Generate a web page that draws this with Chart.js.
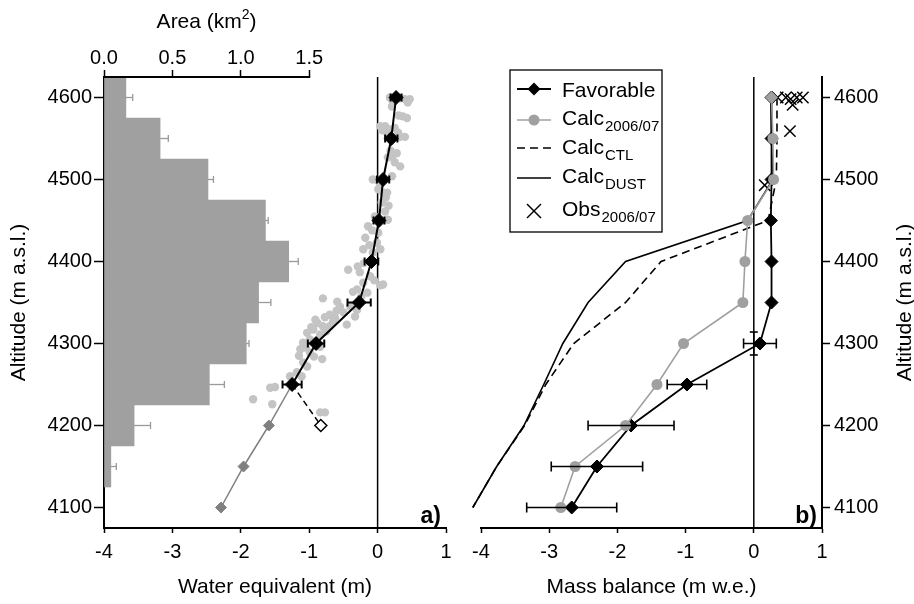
<!DOCTYPE html>
<html>
<head>
<meta charset="utf-8">
<script src="https://cdn.jsdelivr.net/npm/chart.js@4"></script>
<style>
  body { margin: 0; background: #fff; }
  #wrap { position: relative; width: 914px; height: 604px; }
  canvas { position: absolute; top: 0; }
</style>
</head>
<body>
<div id="wrap">
  <canvas id="chartA" width="460" height="604" style="left:0"></canvas>
  <canvas id="chartB" width="454" height="604" style="left:460px"></canvas>
</div>
<script>
// ---- tick labels ----
const altTicks = [4100, 4200, 4300, 4400, 4500, 4600];
const areaTicks = [0.0, 0.5, 1.0, 1.5];
const meterTicks = [-4, -3, -2, -1, 0, 1];

// ---- panel a: glacier area per 50 m band ----
const bandAlt = [4600, 4550, 4500, 4450, 4400, 4350, 4300, 4250, 4200, 4150];
const bandArea = [0.16, 0.41, 0.76, 1.18, 1.35, 1.13, 1.04, 0.77, 0.22, 0.05];
const bandAreaErr = [0.05, 0.06, 0.04, 0.02, 0.07, 0.09, 0.02, 0.11, 0.12, 0.04];

// ---- panel a: water equivalent ----
const weAlt = [4600, 4550, 4500, 4450, 4400, 4350, 4300, 4250];
const weFav = [0.27, 0.20, 0.08, 0.02, -0.09, -0.27, -0.90, -1.25];
const weErr = [0.08, 0.09, 0.09, 0.08, 0.10, 0.17, 0.12, 0.14];
const weExtAlt = [4250, 4200, 4150, 4100];
const weExt = [-1.25, -1.59, -1.96, -2.29];
const weOpenAlt = [4250, 4200];
const weOpen = [-1.25, -0.83];
// single probe readings [water equivalent, altitude]
const probes = [
  [0.18,4600],[0.25,4600],[0.33,4599],[0.40,4598],[0.47,4598],[0.22,4596],[0.44,4594],
  [0.21,4589],[0.37,4577],[0.31,4578],[0.43,4575],
  [0.04,4565],[0.11,4565],[0.18,4561],[0.25,4563],[0.30,4557],[0.33,4552],[0.40,4552],[0.07,4560],[0.14,4557],
  [0.15,4527],[0.21,4528],[0.25,4521],[0.33,4516],[0.19,4535],[0.28,4532],
  [-0.07,4500],[0.21,4504],[0.01,4488],[0.08,4484],[0.14,4484],[0.06,4472],[0.11,4461],[-0.04,4455],[0.15,4451],
  [0.02,4497],[0.12,4478],[0.16,4468],
  [-0.14,4443],[0.01,4435],[-0.18,4429],[-0.01,4423],[-0.21,4415],[0.04,4415],[-0.07,4411],[-0.08,4438],[-0.12,4420],
  [-0.29,4394],[-0.43,4390],[-0.26,4387],[-0.11,4382],[-0.21,4374],[0.04,4371],[0.08,4372],[-0.30,4366],[-0.36,4363],[-0.15,4362],
  [-0.20,4398],[-0.05,4377],[-0.24,4357],
  [-0.80,4355],[-0.59,4351],[-0.40,4345],[-0.30,4341],[-0.50,4338],[-0.33,4333],[-0.77,4332],[-0.91,4329],[-0.65,4327],
  [-0.45,4323],[-0.80,4321],[-0.70,4321],[-0.94,4317],[-1.03,4313],[-0.84,4311],[-0.99,4305],[-1.09,4301],[-0.91,4299],
  [-0.60,4340],[-0.70,4335],[-0.55,4345],[-0.88,4325],[-0.75,4315],[-0.97,4320],[-0.62,4331],
  [-0.84,4296],[-1.13,4293],[-0.99,4289],[-0.81,4281],[-1.09,4277],[-1.03,4272],[-1.18,4265],[-1.11,4260],[-1.28,4260],
  [-1.05,4295],[-0.93,4284],[-1.15,4285],
  [-1.57,4246],[-1.50,4247],[-1.82,4232],[-1.54,4226],[-0.84,4216],[-0.77,4216]
];

// ---- panel b: mass balance ----
const mbAlt = [4600, 4550, 4500, 4450, 4400, 4350, 4300, 4250, 4200, 4150, 4100];
const mbFav = [0.26, 0.26, 0.26, 0.25, 0.26, 0.26, 0.09, -0.98, -1.80, -2.30, -2.67];
const mbFavErr = [0, 0, 0, 0, 0, 0, 0.24, 0.29, 0.63, 0.67, 0.66];
const mbCalc = [0.26, 0.28, 0.29, -0.09, -0.13, -0.16, -1.03, -1.42, -1.88, -2.62, -2.83];
const mbCtl = [0.34, 0.34, 0.33, 0.21, -1.36, -1.88, -2.64, -3.05, -3.36, -3.77, -4.12];
const mbDust = [0.25, 0.26, 0.28, -0.09, -1.88, -2.43, -2.80, -3.08, -3.37, -3.77, -4.12];
const obsMB = [0.35, 0.47, 0.54, 0.63, 0.72, 0.57, 0.53, 0.16];
const obsAlt = [4600, 4600, 4598, 4600, 4600, 4591, 4559, 4493];
const obsStakeMB = 0, obsStakeAlt = 4300, obsStakeAltErr = 14;

const FONT = "'Liberation Sans', Arial, Helvetica, sans-serif";
Chart.defaults.font.family = FONT;
Chart.defaults.font.size = 20;
Chart.defaults.color = '#000';
Chart.defaults.animation = false;

const pts = (xs, ys) => xs.map((x, i) => ({ x: x, y: ys[i] }));

function altScale(position, width, title) {
  return {
    type: 'linear', position: position, min: 4075, max: 4625, offset: false,
    afterBuildTicks: s => { s.ticks = altTicks.map(v => ({ value: v })); },
    afterFit: s => { s.width = width; },
    ticks: { padding: position === 'left' ? 2 : 4, callback: v => String(v) },
    grid: { drawOnChartArea: false, offset: false, tickLength: position === 'left' ? 10 : 8, tickColor: '#000', tickWidth: 1.5 },
    border: { display: true, color: '#000', width: 2 },
    title: title ? { display: true, text: title, font: { size: 21 }, padding: { top: 7, bottom: 0 } } : { display: false }
  };
}

function meterScale(title) {
  return {
    type: 'linear', position: 'bottom', min: -4, max: 1,
    afterBuildTicks: s => { s.ticks = meterTicks.map(v => ({ value: v })); },
    afterFit: s => { s.height = 76; },
    ticks: { padding: 7, callback: v => String(v) },
    grid: { drawOnChartArea: false, tickLength: 5, tickColor: '#000', tickWidth: 1.5 },
    border: { display: true, color: '#000', width: 2 },
    title: { display: true, text: title, font: { size: 21 }, padding: { top: 0, bottom: 4 } }
  };
}

function errorLine(ctx, x1, y1, x2, y2) {
  ctx.beginPath(); ctx.moveTo(x1, y1); ctx.lineTo(x2, y2); ctx.stroke();
}

function zeroLine(chart, xId) {
  const { ctx, chartArea } = chart;
  const x0 = chart.scales[xId].getPixelForValue(0);
  ctx.save();
  ctx.strokeStyle = '#000'; ctx.lineWidth = 1.5;
  errorLine(ctx, x0, chartArea.top, x0, chartArea.bottom);
  ctx.restore();
}

function panelTag(chart, text) {
  const { ctx, chartArea } = chart;
  ctx.save();
  ctx.font = 'bold 23px ' + FONT;
  ctx.textAlign = 'right'; ctx.textBaseline = 'alphabetic';
  ctx.fillText(text, chartArea.right - 5, chartArea.bottom - 5);
  ctx.restore();
}

const panelAPlugin = {
  id: 'panelA',
  beforeDatasetsDraw(chart) { zeroLine(chart, 'x'); },
  afterDatasetsDraw(chart) {
    const { ctx } = chart;
    const xs = chart.scales.x, ys = chart.scales.y, xt = chart.scales.xTop;
    ctx.save();
    // area uncertainty (one-sided, grey)
    ctx.strokeStyle = '#9a9a9a'; ctx.lineWidth = 1.3;
    bandAlt.forEach((a, i) => {
      const y = ys.getPixelForValue(a);
      const x1 = xt.getPixelForValue(bandArea[i]);
      const x2 = xt.getPixelForValue(bandArea[i] + bandAreaErr[i]);
      errorLine(ctx, x1, y, x2, y);
      errorLine(ctx, x2, y - 3.5, x2, y + 3.5);
    });
    // water equivalent uncertainty
    ctx.strokeStyle = '#000'; ctx.lineWidth = 2;
    weAlt.forEach((a, i) => {
      const y = ys.getPixelForValue(a);
      const x1 = xs.getPixelForValue(weFav[i] - weErr[i]);
      const x2 = xs.getPixelForValue(weFav[i] + weErr[i]);
      errorLine(ctx, x1, y, x2, y);
      errorLine(ctx, x1, y - 4, x1, y + 4);
      errorLine(ctx, x2, y - 4, x2, y + 4);
    });
    // top axis line only over the labelled range
    ctx.lineWidth = 2;
    errorLine(ctx, xt.getPixelForValue(areaTicks[0]) - 1, xt.bottom, xt.getPixelForValue(areaTicks[areaTicks.length - 1]) + 1, xt.bottom);
    // top axis title with superscript
    const cx = (xt.getPixelForValue(areaTicks[0]) + xt.getPixelForValue(areaTicks[areaTicks.length - 1])) / 2;
    ctx.font = '21px ' + FONT;
    const t1 = 'Area (km', t3 = ')';
    ctx.textBaseline = 'alphabetic';
    const w1 = ctx.measureText(t1).width, w3 = ctx.measureText(t3).width;
    ctx.font = '14px ' + FONT;
    const w2 = ctx.measureText('2').width;
    let x = cx - (w1 + w2 + w3) / 2;
    ctx.textAlign = 'left';
    ctx.font = '21px ' + FONT; ctx.fillText(t1, x, 28); x += w1;
    ctx.font = '14px ' + FONT; ctx.fillText('2', x, 19); x += w2;
    ctx.font = '21px ' + FONT; ctx.fillText(t3, x, 28);
    ctx.restore();
    panelTag(chart, 'a)');
  }
};

new Chart(document.getElementById('chartA'), {
  type: 'scatter',
  data: {
    datasets: [
      {
        label: 'Favorable', data: pts(weFav, weAlt), showLine: true,
        borderColor: '#000', borderWidth: 2, pointStyle: 'rectRot', pointRadius: 7,
        pointBackgroundColor: '#000', pointBorderColor: '#000', pointBorderWidth: 1
      },
      {
        label: 'Extrapolated', data: pts(weExt, weExtAlt), showLine: true,
        borderColor: '#808080', borderWidth: 1.5, pointStyle: 'rectRot', pointRadius: [0, 5.5, 5.5, 5.5],
        pointBackgroundColor: '#808080', pointBorderColor: '#808080', pointBorderWidth: 1
      },
      {
        label: 'Alternative', data: pts(weOpen, weOpenAlt), showLine: true,
        borderColor: '#000', borderWidth: 1.5, borderDash: [6, 4], pointStyle: 'rectRot', pointRadius: [0, 6],
        pointBackgroundColor: '#fff', pointBorderColor: '#000', pointBorderWidth: 1.5
      },
      {
        label: 'Probes', data: probes.map(p => ({ x: p[0], y: p[1] })),
        pointRadius: 4.2, pointBackgroundColor: '#c4c4c4', pointBorderWidth: 0
      },
      {
        type: 'bar', label: 'Area', data: pts(bandArea, bandAlt), indexAxis: 'y',
        xAxisID: 'xTop', yAxisID: 'y', backgroundColor: '#a0a0a0', borderWidth: 0,
        grouped: false, barPercentage: 1, categoryPercentage: 1
      }
    ]
  },
  options: {
    responsive: false,
    layout: { padding: { left: 0, right: 14, top: 0, bottom: 0 } },
    plugins: { legend: { display: false }, tooltip: { enabled: false } },
    scales: {
      x: meterScale('Water equivalent (m)'),
      xTop: {
        type: 'linear', position: 'top', min: 0, max: 2.5,
        afterBuildTicks: s => { s.ticks = areaTicks.map(v => ({ value: v })); },
        afterFit: s => { s.height = 77; },
        ticks: { padding: 0, callback: v => v.toFixed(1) },
        grid: { drawOnChartArea: false, tickLength: 7, tickColor: '#000', tickWidth: 1.5 },
        border: { display: false }
      },
      y: altScale('left', 104, 'Altitude (m a.s.l.)')
    }
  },
  plugins: [panelAPlugin]
});

// ---- panel b ----
function legendB(chart) {
  const { ctx } = chart;
  const bx = 50, by = 70, bw = 152, bh = 162;
  const sx1 = 57, sx2 = 91, sc = 74, tx = 102;
  const rows = [
    { main: 'Favorable', sub: '', sym: 'fav', cy: 89, base: 97 },
    { main: 'Calc', sub: '2006/07', sym: 'calc', cy: 120, base: 125 },
    { main: 'Calc', sub: 'CTL', sym: 'ctl', cy: 148, base: 154 },
    { main: 'Calc', sub: 'DUST', sym: 'dust', cy: 178, base: 183 },
    { main: 'Obs', sub: '2006/07', sym: 'obs', cy: 211, base: 216 }
  ];
  ctx.save();
  ctx.fillStyle = '#fff';
  ctx.fillRect(bx, by, bw, bh);
  ctx.strokeStyle = '#000'; ctx.lineWidth = 1.3;
  ctx.strokeRect(bx, by, bw, bh);
  rows.forEach(r => {
    ctx.save();
    if (r.sym === 'fav' || r.sym === 'calc' || r.sym === 'dust' || r.sym === 'ctl') {
      ctx.strokeStyle = r.sym === 'calc' ? '#a0a0a0' : '#000';
      ctx.lineWidth = r.sym === 'fav' ? 2 : 1.6;
      if (r.sym === 'ctl') ctx.setLineDash([8, 5]);
      errorLine(ctx, sx1, r.cy, sx2, r.cy);
      ctx.setLineDash([]);
    }
    if (r.sym === 'fav') {
      ctx.fillStyle = '#000';
      ctx.beginPath();
      ctx.moveTo(sc, r.cy - 6.5); ctx.lineTo(sc + 6.5, r.cy); ctx.lineTo(sc, r.cy + 6.5); ctx.lineTo(sc - 6.5, r.cy);
      ctx.closePath(); ctx.fill();
    } else if (r.sym === 'calc') {
      ctx.fillStyle = '#a0a0a0';
      ctx.beginPath(); ctx.arc(sc, r.cy, 5.5, 0, Math.PI * 2); ctx.fill();
    } else if (r.sym === 'obs') {
      ctx.strokeStyle = '#000'; ctx.lineWidth = 1.5;
      errorLine(ctx, sc - 7, r.cy - 7, sc + 7, r.cy + 7);
      errorLine(ctx, sc - 7, r.cy + 7, sc + 7, r.cy - 7);
    }
    ctx.restore();
    ctx.fillStyle = '#000';
    ctx.textAlign = 'left'; ctx.textBaseline = 'alphabetic';
    ctx.font = '21px ' + FONT;
    ctx.fillText(r.main, tx, r.base);
    if (r.sub) {
      const w = ctx.measureText(r.main).width;
      ctx.font = '15px ' + FONT;
      ctx.fillText(r.sub, tx + w + 1, r.base + 6);
    }
  });
  ctx.restore();
}

const panelBPlugin = {
  id: 'panelB',
  beforeDatasetsDraw(chart) { zeroLine(chart, 'x'); },
  afterDatasetsDraw(chart) {
    const { ctx } = chart;
    const xs = chart.scales.x, ys = chart.scales.y;
    ctx.save();
    ctx.strokeStyle = '#000'; ctx.lineWidth = 1.6;
    mbAlt.forEach((a, i) => {
      if (!mbFavErr[i]) return;
      const y = ys.getPixelForValue(a);
      const x1 = xs.getPixelForValue(mbFav[i] - mbFavErr[i]);
      const x2 = xs.getPixelForValue(mbFav[i] + mbFavErr[i]);
      errorLine(ctx, x1, y, x2, y);
      errorLine(ctx, x1, y - 5, x1, y + 5);
      errorLine(ctx, x2, y - 5, x2, y + 5);
    });
    // altitude uncertainty of the stake reading at the equilibrium line
    const sx = xs.getPixelForValue(obsStakeMB);
    const sy1 = ys.getPixelForValue(obsStakeAlt - obsStakeAltErr);
    const sy2 = ys.getPixelForValue(obsStakeAlt + obsStakeAltErr);
    errorLine(ctx, sx, sy1, sx, sy2);
    errorLine(ctx, sx - 4, sy1, sx + 4, sy1);
    errorLine(ctx, sx - 4, sy2, sx + 4, sy2);
    // right axis title, reading bottom to top
    const yc = (chart.chartArea.top + chart.chartArea.bottom) / 2;
    ctx.translate(chart.width - 9, yc);
    ctx.rotate(-Math.PI / 2);
    ctx.font = '21px ' + FONT;
    ctx.textAlign = 'center'; ctx.textBaseline = 'middle';
    ctx.fillStyle = '#000';
    ctx.fillText('Altitude (m a.s.l.)', 0, 0);
    ctx.restore();
    legendB(chart);
    panelTag(chart, 'b)');
  }
};

new Chart(document.getElementById('chartB'), {
  type: 'scatter',
  data: {
    datasets: [
      {
        label: 'Calc 2006/07', data: pts(mbCalc, mbAlt), showLine: true,
        borderColor: '#a0a0a0', borderWidth: 1.6,
        pointStyle: mbAlt.map(a => a === 4600 ? 'rectRot' : 'circle'),
        pointRadius: mbAlt.map(a => a === 4600 ? 6.5 : 5.5),
        pointBackgroundColor: '#a0a0a0', pointBorderColor: '#a0a0a0', pointBorderWidth: 0
      },
      {
        label: 'Favorable', data: pts(mbFav, mbAlt), showLine: true,
        borderColor: '#000', borderWidth: 1.8, pointStyle: 'rectRot', pointRadius: 6.5,
        pointBackgroundColor: '#000', pointBorderColor: '#000', pointBorderWidth: 1
      },
      {
        label: 'Obs 2006/07', data: pts(obsMB, obsAlt),
        pointStyle: 'crossRot', pointRadius: 8, pointBorderColor: '#000', pointBorderWidth: 1.5
      },
      {
        label: 'Calc DUST', data: pts(mbDust, mbAlt), showLine: true, clip: false,
        borderColor: '#000', borderWidth: 1.6, pointRadius: 0
      },
      {
        label: 'Calc CTL', data: pts(mbCtl, mbAlt), showLine: true, clip: false,
        borderColor: '#000', borderWidth: 1.6, borderDash: [8, 5], pointRadius: 0
      }
    ]
  },
  options: {
    responsive: false,
    layout: { padding: { left: 21, right: 0, top: 77, bottom: 0 } },
    plugins: { legend: { display: false }, tooltip: { enabled: false } },
    scales: {
      x: meterScale('Mass balance (m w.e.)'),
      y: altScale('right', 92, null)
    }
  },
  plugins: [panelBPlugin]
});
</script>
</body>
</html>
